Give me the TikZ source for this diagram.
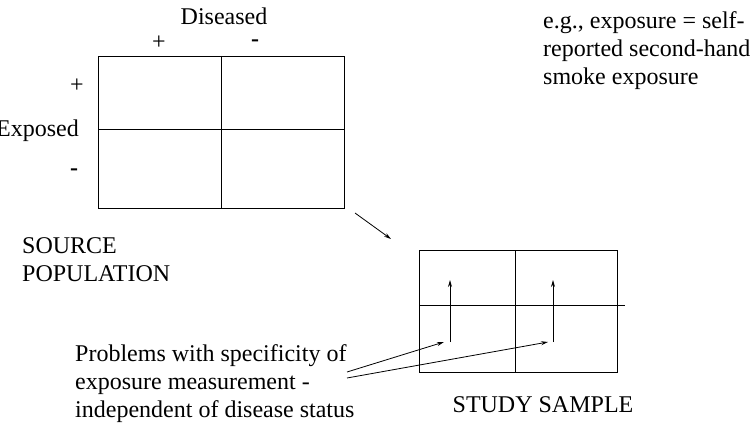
\documentclass[tikz,border=0pt]{standalone}
\usepackage{fontspec}
\setmainfont{Liberation Serif}
\usetikzlibrary{arrows.meta,positioning}

\begin{document}
\begin{tikzpicture}[x=1pt,y=-1pt,every node/.style={font=\fontsize{24}{28}\selectfont,inner sep=0pt},
  grid/.style={line width=.9pt},
  ptr/.style={line width=.8pt,-{Stealth[length=7pt,width=4pt]}}]
\useasboundingbox (0,0) rectangle (752,428);
% source population table
\coordinate (s0) at (98,56);
\coordinate (s1) at (344,208);
\draw[grid] (s0) rectangle (s1);
\draw[grid] (221,56)--(221,208);
\draw[grid] (98,129)--(344,129);
\node (dis) at (224,16) {Diseased};
\node (dplus) at (159,43) {+};
\node (dminus) at (255,43) {\textbf{-}};
\node (eplus) at (77,86) {+};
\node[anchor=east] (exp) at (79,131) {Exposed};
\node (eminus) at (74,172) {\textbf{-}};
\node[anchor=west,align=left] (src) at (22,260) {SOURCE\\POPULATION};
% study sample table
\coordinate (t0) at (419,250);
\coordinate (t1) at (617,372);
\draw[grid] (t0) rectangle (t1);
\draw[grid] (515,250)--(515,372);
\draw[grid] (419,305)--(625,305);
\node (study) at (543,405) {STUDY SAMPLE};
% arrows
\coordinate (a0) at (355,213);
\coordinate (a1) at (391,239);
\draw[ptr] (a0)--(a1);
\coordinate (l0) at (450,342);
\coordinate (l1) at (450,280);
\coordinate (r0) at (553,342);
\coordinate (r1) at (553,280);
\draw[ptr] (l0)--(l1);
\draw[ptr] (r0)--(r1);
\node[anchor=west,align=left] (prob) at (75,384) {Problems with specificity of\\exposure measurement -\\independent of disease status};
\coordinate (p0) at (347,372);
\coordinate (p1) at (347,378);
\draw[ptr] (p0)--(444,342);
\draw[ptr] (p1)--(548,342);
\node[anchor=west,align=left] (eg) at (543,51) {e.g., exposure = self-\\reported second-hand\\smoke exposure};
\end{tikzpicture}
\end{document}
